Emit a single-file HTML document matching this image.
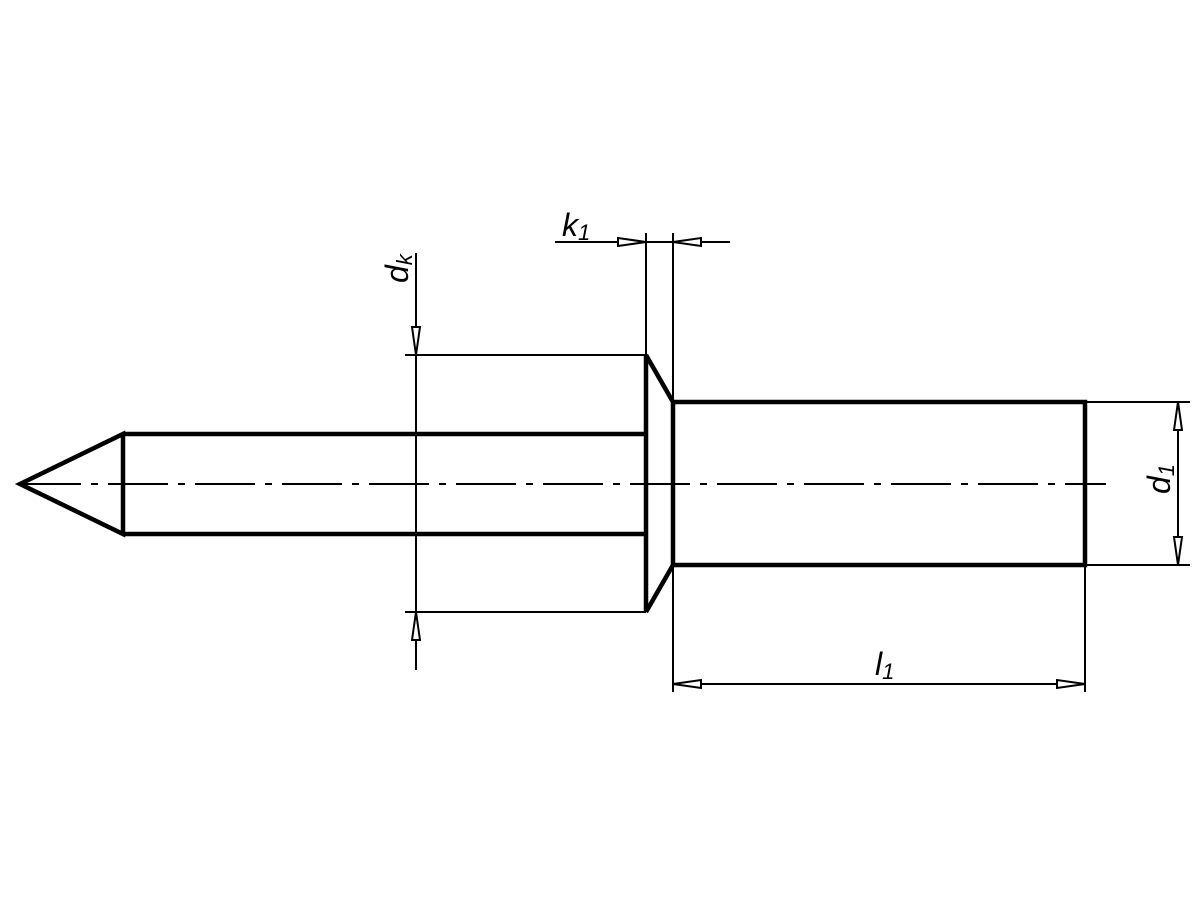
<!DOCTYPE html>
<html><head><meta charset="utf-8"><style>html,body{margin:0;padding:0;background:#fff}svg{display:block}</style></head>
<body>
<svg width="1200" height="900" viewBox="0 0 1200 900" xmlns="http://www.w3.org/2000/svg">
<rect width="1200" height="900" fill="#fff"/>
<g stroke="#000" fill="none" stroke-linecap="butt">
<line x1="11" y1="484" x2="1106" y2="484" stroke-width="2" stroke-dasharray="60,10,7,10" stroke-dashoffset="-10"/>
<g stroke-width="4.5" stroke-linejoin="miter">
<polygon points="20,484 123,434 123,534"/>
<line x1="123" y1="434" x2="646" y2="434"/>
<line x1="123" y1="534" x2="646" y2="534"/>
<polyline points="646,355 646,612"/>
<line x1="646" y1="355" x2="673" y2="402"/>
<line x1="646" y1="612" x2="673" y2="565"/>
<rect x="673" y="402" width="412" height="163"/>
</g>
<g stroke-width="2">
<line x1="416" y1="253" x2="416" y2="670"/>
<line x1="405" y1="355" x2="646" y2="355"/>
<line x1="405" y1="612" x2="646" y2="612"/>
<line x1="555" y1="242" x2="730" y2="242"/>
<line x1="646" y1="233" x2="646" y2="355"/>
<line x1="673" y1="233" x2="673" y2="402"/>
<line x1="1085" y1="402" x2="1190" y2="402"/>
<line x1="1085" y1="565" x2="1190" y2="565"/>
<line x1="1178" y1="402" x2="1178" y2="565"/>
<line x1="673" y1="565" x2="673" y2="692"/>
<line x1="1085" y1="565" x2="1085" y2="692"/>
<line x1="673" y1="684" x2="1085" y2="684"/>
</g>
<g stroke-width="2" fill="#fff" stroke-linejoin="miter">
<polygon points="416,355 412,327 420,327"/>
<polygon points="416,612 412,640 420,640"/>
<polygon points="646,242 618,238 618,246"/>
<polygon points="673,242 701,238 701,246"/>
<polygon points="1178,402 1174,430 1182,430"/>
<polygon points="1178,565 1174,537 1182,537"/>
<polygon points="673,684 701,680 701,688"/>
<polygon points="1085,684 1057,680 1057,688"/>
</g>
</g>
<g font-family="Liberation Sans, sans-serif" font-style="italic" fill="#000">
<text x="562" y="236" font-size="32">k<tspan font-size="22" dy="4">1</tspan></text>
<text x="875" y="675" font-size="32">l<tspan font-size="22" dy="4">1</tspan></text>
<text transform="translate(408,283) rotate(-90)" font-size="32">d<tspan font-size="22" dy="4">k</tspan></text>
<text transform="translate(1170,494) rotate(-90)" font-size="32">d<tspan font-size="22" dy="4">1</tspan></text>
</g>
</svg>
</body></html>
